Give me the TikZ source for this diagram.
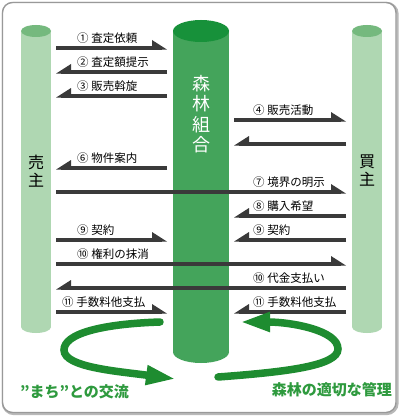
\documentclass[tikz,border=0pt]{standalone}
\usepackage{fontspec}
\setmainfont{Noto Sans CJK JP}
\usetikzlibrary{arrows.meta,calc}
\definecolor{arrgray}{HTML}{3A3A3A}
\definecolor{sidebody}{HTML}{AFD7B2}
\definecolor{sidetop}{HTML}{75B97E}
\definecolor{midbody}{HTML}{44A45B}
\definecolor{midtop}{HTML}{17913A}
\definecolor{curvegreen}{HTML}{1E8C30}
\definecolor{textgreen}{HTML}{2E9A3E}
\newcommand\rarr[2]{\draw[arrline] (#1) -- ($(#2)+(-5,0)$);
  \fill[arrgray] ($(#2)+(-15,-8)$) -- ($(#2)+(0,1.6)$) -- ($(#2)+(-15,1.6)$) -- cycle;}
\newcommand\larr[2]{\draw[arrline] (#1) -- ($(#2)+(5,0)$);
  \fill[arrgray] ($(#2)+(15,-8)$) -- ($(#2)+(0,1.6)$) -- ($(#2)+(15,1.6)$) -- cycle;}
\begin{document}
\begin{tikzpicture}[x=1pt,y=-1pt,
  arrline/.style={draw=arrgray, line width=3.2pt},
  lbl/.style={font=\fontsize{11.5}{13}\selectfont, inner sep=0pt, anchor=west},
  sidelbl/.style={font=\fontsize{16}{18}\selectfont, align=center, inner sep=0pt},
  bigcurve/.style={draw=curvegreen, line width=7.5pt, line cap=round,
    -{Triangle[length=30pt,width=18pt]}},
  greenlbl/.style={font=\fontsize{15}{17}\selectfont\bfseries, text=textgreen, inner sep=0pt}]
\useasboundingbox (0,0) rectangle (400,420);
% frame
\draw[gray!55, line width=2.4pt, rounded corners=11pt] (3,3) rectangle (397.5,414);
\fill[white, rounded corners=10pt] (2.5,2.5) rectangle (396,412.5);
\draw[gray!80, line width=1.4pt, rounded corners=10pt] (2.5,2.5) rectangle (396,412.5);
% left cylinder
\fill[sidebody] (21,31) rectangle (51,327);
\fill[sidebody] (36,327) ellipse (15pt and 6pt);
\fill[sidetop] (36,31) ellipse (15pt and 6pt);
% right cylinder
\fill[sidebody] (352,31) rectangle (382,327);
\fill[sidebody] (367,327) ellipse (15pt and 6pt);
\fill[sidetop] (367,31) ellipse (15pt and 6pt);
% center cylinder
\fill[midbody] (173,31) rectangle (229,352);
\fill[midbody] (201,352) ellipse (28pt and 11pt);
\fill[midtop] (201,31) ellipse (28pt and 11pt);
\node[sidelbl, text=white, font=\fontsize{18}{20.5}\selectfont] (kumiai) at (201,114) {森\\林\\組\\合};
\node[sidelbl] (uri) at (36,171) {売\\主};
\node[sidelbl] (kai) at (367,171) {買\\主};
% arrow end coordinates
\coordinate (a1s) at (56,48);   \coordinate (a1e) at (167,48);
\coordinate (a2s) at (167,72);  \coordinate (a2e) at (56,72);
\coordinate (a3s) at (167,96);  \coordinate (a3e) at (56,96);
\coordinate (a4s) at (234,120); \coordinate (a4e) at (346,120);
\coordinate (a5s) at (346,144); \coordinate (a5e) at (234,144);
\coordinate (a6s) at (167,168); \coordinate (a6e) at (56,168);
\coordinate (a7s) at (56,192);  \coordinate (a7e) at (346,192);
\coordinate (a8s) at (346,216); \coordinate (a8e) at (234,216);
\coordinate (a9ls) at (56,240); \coordinate (a9le) at (167,240);
\coordinate (a9rs) at (346,240);\coordinate (a9re) at (234,240);
\coordinate (a10s) at (56,264); \coordinate (a10e) at (346,264);
\coordinate (a10bs) at (346,288); \coordinate (a10be) at (56,288);
\coordinate (a11ls) at (56,312); \coordinate (a11le) at (167,312);
\coordinate (a11rs) at (346,312);\coordinate (a11re) at (234,312);
\rarr{a1s}{a1e}
\larr{a2s}{a2e}
\larr{a3s}{a3e}
\rarr{a4s}{a4e}
\larr{a5s}{a5e}
\larr{a6s}{a6e}
\rarr{a7s}{a7e}
\larr{a8s}{a8e}
\rarr{a9ls}{a9le}
\larr{a9rs}{a9re}
\rarr{a10s}{a10e}
\larr{a10bs}{a10be}
\rarr{a11ls}{a11le}
\larr{a11rs}{a11re}
% labels
\node[lbl] (l1) at (77,38) {① 査定依頼};
\node[lbl] (l2) at (77,62) {② 査定額提示};
\node[lbl] (l3) at (77,86) {③ 販売斡旋};
\node[lbl] (l4) at (253,110) {④ 販売活動};
\node[lbl] (l6) at (77,158) {⑥ 物件案内};
\node[lbl] (l7) at (253,182) {⑦ 境界の明示};
\node[lbl] (l8) at (253,206) {⑧ 購入希望};
\node[lbl] (l9l) at (77,230) {⑨ 契約};
\node[lbl] (l9r) at (253,230) {⑨ 契約};
\node[lbl] (l10) at (77,254) {⑩ 権利の抹消};
\node[lbl] (l10b) at (253,278) {⑩ 代金支払い};
\node[lbl] (l11l) at (62,302) {⑪ 手数料他支払};
\node[lbl] (l11r) at (253,302) {⑪ 手数料他支払};
% curved arrows
\coordinate (c1s) at (160,322); \coordinate (c1e) at (176,379);
\coordinate (c2s) at (218,377); \coordinate (c2e) at (240,322);
\draw[bigcurve] (c1s) .. controls (100,324) and (64,334) .. (64,350)
  .. controls (64,367) and (115,371) .. (c1e);
\draw[bigcurve] (c2s) .. controls (285,372) and (338,366) .. (338,349)
  .. controls (338,330) and (290,322) .. (c2e);
\node[greenlbl, anchor=west] (machi) at (20,392) {”まち”との交流};
\node[greenlbl, anchor=east] (kanri) at (392,390) {森林の適切な管理};
\end{tikzpicture}
\end{document}
